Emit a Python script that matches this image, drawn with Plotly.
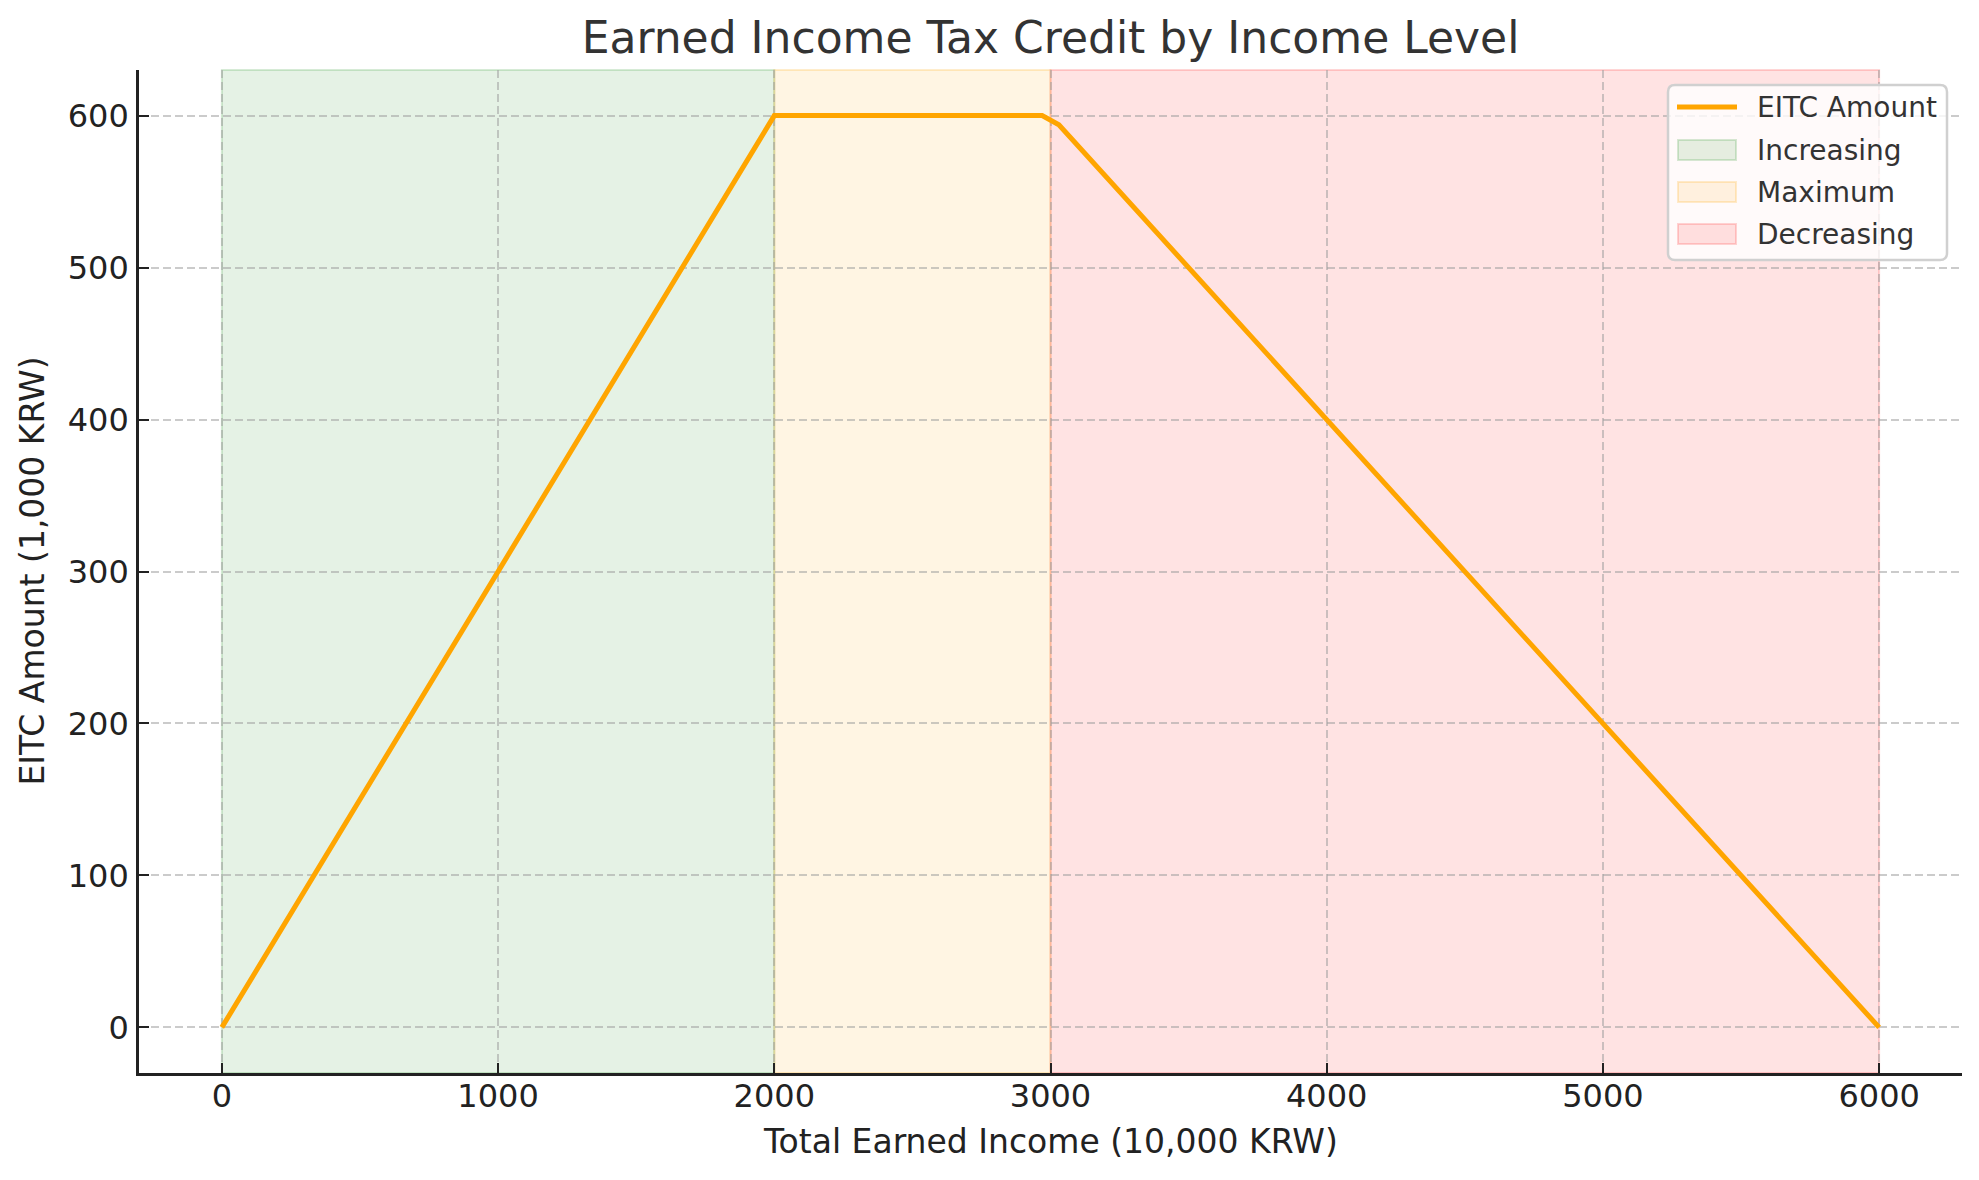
import plotly.graph_objects as go

# Data
income = [0, 2000, 2969.7, 3030.3, 6000]          # Total earned income (10,000 KRW)
eitc_amount = [0, 600, 600, 593.9, 0]             # EITC amount (1,000 KRW)

phase_names = ["Increasing", "Maximum", "Decreasing"]
phase_start = [0, 2000, 3000]
phase_end = [2000, 3000, 6000]
phase_fill = ["rgba(0,128,0,0.10)", "rgba(255,165,0,0.11)", "rgba(255,0,0,0.11)"]
phase_edge = ["rgba(0,128,0,0.16)", "rgba(255,165,0,0.2)", "rgba(255,0,0,0.16)"]

x_ticks = [0, 1000, 2000, 3000, 4000, 5000, 6000]
y_ticks = [0, 100, 200, 300, 400, 500, 600]

FONT = "DejaVu Sans"
LINE_COLOR = "#FFA500"

# page is offset by the 8px body margin; plot area in page pixels
W, H = 1971, 1172
PL, PR, PT, PB = 139, 1962, 70, 1073
OFF = 8


def px(x):
    return (x - PL) / (PR - PL)


def py(y):
    return (PB - y) / (PB - PT)


fig = go.Figure()

fig.add_trace(go.Scatter(
    x=income, y=eitc_amount, mode="lines", name="EITC Amount",
    line=dict(color=LINE_COLOR, width=5), showlegend=False,
))

for name, s, e, fc, ec in zip(phase_names, phase_start, phase_end, phase_fill, phase_edge):
    fig.add_shape(type="rect", xref="x", yref="y domain", x0=s, x1=e, y0=0, y1=1,
                  fillcolor=fc, line=dict(color=ec, width=2), layer="below")

# ---- manual legend (matplotlib style) ----
bx0, bx1, by0, by1, r = 1668, 1947, 85, 260, 7
path = (f"M{px(bx0 + r)},{py(by0)} L{px(bx1 - r)},{py(by0)} Q{px(bx1)},{py(by0)} {px(bx1)},{py(by0 + r)} "
        f"L{px(bx1)},{py(by1 - r)} Q{px(bx1)},{py(by1)} {px(bx1 - r)},{py(by1)} "
        f"L{px(bx0 + r)},{py(by1)} Q{px(bx0)},{py(by1)} {px(bx0)},{py(by1 - r)} "
        f"L{px(bx0)},{py(by0 + r)} Q{px(bx0)},{py(by0)} {px(bx0 + r)},{py(by0)} Z")
fig.add_shape(type="path", xref="paper", yref="paper", path=path,
              fillcolor="rgba(255,255,255,0.8)", line=dict(color="#d0d0d0", width=2.5),
              layer="above")

fig.add_shape(type="line", xref="paper", yref="paper",
              x0=px(1677), x1=px(1737), y0=py(107), y1=py(107),
              line=dict(color=LINE_COLOR, width=5), layer="above")
legend_rows = [(107, "EITC Amount")]
row_centers = [150, 192, 234]
for yc, name, fc, ec in zip(row_centers, phase_names, phase_fill, phase_edge):
    fig.add_shape(type="rect", xref="paper", yref="paper",
                  x0=px(1678), x1=px(1736), y0=py(yc - 10), y1=py(yc + 10),
                  fillcolor=fc, line=dict(color=ec, width=2), layer="above")
    legend_rows.append((yc, name))

for yc, name in legend_rows:
    fig.add_annotation(xref="paper", yref="paper", x=px(1755), y=py(yc),
                       xanchor="left", yanchor="middle", showarrow=False, text=name,
                       font=dict(family=FONT, size=28, color="#333333"))

# ---- axis titles ----
fig.add_annotation(xref="paper", yref="paper", x=0.5, y=py(1141), xanchor="center",
                   yanchor="middle", showarrow=False, text="Total Earned Income (10,000 KRW)",
                   font=dict(family=FONT, size=33, color="#222222"))
fig.add_annotation(xref="paper", yref="paper", x=px(32), y=0.5, xanchor="center",
                   yanchor="middle", showarrow=False, text="EITC Amount (1,000 KRW)",
                   textangle=-90, font=dict(family=FONT, size=33, color="#222222"))

axis_common = dict(
    showgrid=True, gridcolor="rgba(160,160,160,0.55)", gridwidth=1.6, griddash="8px,4px",
    zeroline=False, showline=True, linecolor="#222222", linewidth=2.6, mirror=False,
    ticks="inside", ticklen=10, tickwidth=2, tickcolor="#222222",
    tickfont=dict(family=FONT, size=32, color="#222222"),
)

fig.update_layout(
    width=W, height=H,
    paper_bgcolor="white", plot_bgcolor="white",
    margin=dict(l=PL - OFF, r=W - (PR - OFF), t=PT - OFF, b=H - (PB - OFF)),
    font=dict(family=FONT, color="#222222"),
    title=dict(text="Earned Income Tax Credit by Income Level",
               font=dict(family=FONT, size=44, color="#333333"),
               x=0.5, xref="paper", xanchor="center",
               y=1 - (38 - OFF) / H, yref="container", yanchor="middle"),
    xaxis=dict(range=[-300, 6300], tickvals=x_ticks, ticklabelstandoff=-7, **axis_common),
    yaxis=dict(range=[-30, 630], tickvals=y_ticks, ticklabelstandoff=1, **axis_common),
    showlegend=False,
)

fig.write_html("out.html")
